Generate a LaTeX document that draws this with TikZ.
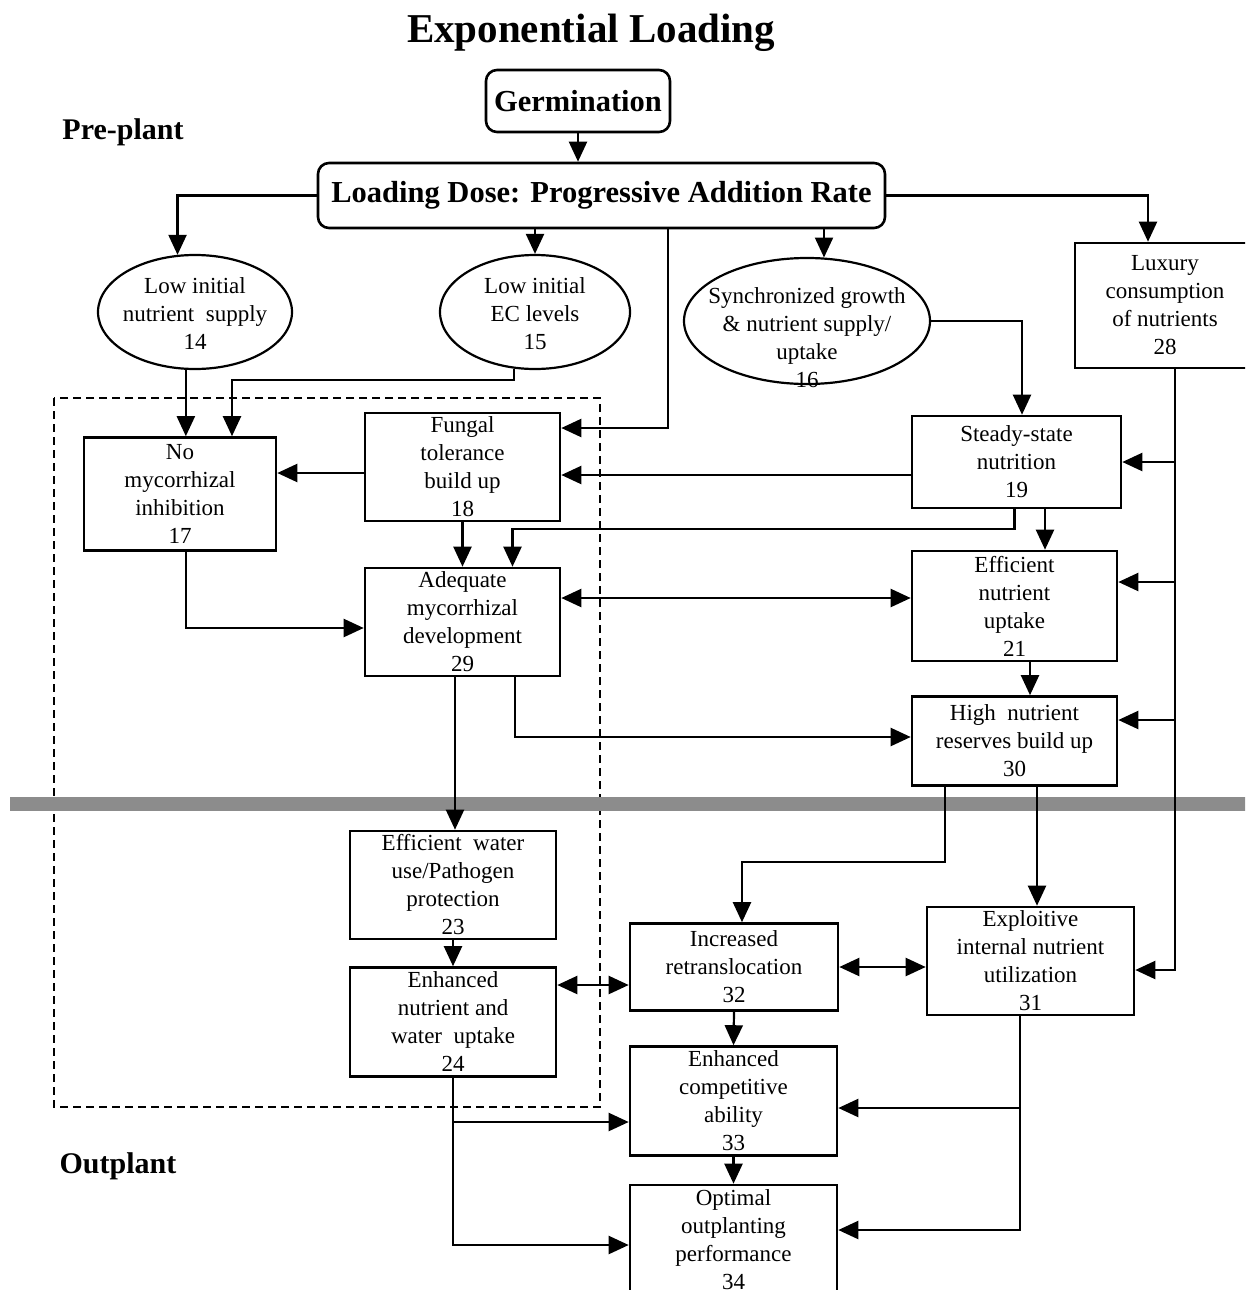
\documentclass[tikz,border=0pt]{standalone}
\usepackage{fontspec}
\setmainfont{Liberation Serif}
\usetikzlibrary{arrows.meta,shapes.geometric}

\begin{document}
\begin{tikzpicture}[x=1pt,y=-1pt,
   every node/.style={font=\fontsize{23}{28}\selectfont, align=center},
   box/.style={draw, line width=2.6pt, inner sep=0pt},
   rbox/.style={box, rounded corners=11pt, font=\fontsize{30.5}{36}\selectfont\bfseries},
   oval/.style={draw, ellipse, line width=2.2pt, inner sep=0pt},
   head/.style={font=\fontsize{30}{36}\selectfont\bfseries},
   ln/.style={line width=2.2pt},
   arr/.style={ln, -{Triangle[length=20pt,width=18pt]}},
   darr/.style={ln, {Triangle[length=20pt,width=18pt]}-{Triangle[length=20pt,width=18pt]}}]
\useasboundingbox (0,0) rectangle (1245,1290);
\clip (0,0) rectangle (1245,1290);

\node[font=\fontsize{41}{48}\selectfont\bfseries] (title) at (591,33) {Exponential Loading};
\node[head] (pre) at (123,132) {Pre-plant};
\node[head] (out) at (118,1166) {Outplant};

\node[rbox, minimum width=184, minimum height=62] (germ) at (578,101) {Germination};
\node[rbox, minimum width=567, minimum height=65] (load) at (601.5,195.5) {Loading Dose: Progressive Addition Rate};

\node[oval, minimum width=194, minimum height=114] (e14) at (195,312) {};
\node (t14) at (195,314) {Low initial\\nutrient~ supply\\14};
\node[oval, minimum width=190, minimum height=114] (e15) at (535,312) {};
\node (t15) at (535,314) {Low initial\\EC levels\\15};
\node[oval, minimum width=246, minimum height=126] (e16) at (807,321) {};
\node (t16) at (807,338) {Synchronized growth\\\& nutrient supply/\\uptake\\16};
\node[box, minimum width=180, minimum height=125] (n28) at (1165,305.5) {Luxury\\consumption\\of nutrients\\28};

\node[box, minimum width=192, minimum height=113] (n17) at (180,494) {No\\mycorrhizal\\inhibition\\17};
\node[box, minimum width=195, minimum height=108] (n18) at (462.5,467) {Fungal\\tolerance\\build up\\18};
\node[box, minimum width=209, minimum height=92] (n19) at (1016.5,462) {Steady-state\\nutrition\\19};
\node[box, minimum width=195, minimum height=108] (n29) at (462.5,622) {Adequate\\mycorrhizal\\development\\29};
\node[box, minimum width=205, minimum height=110] (n21) at (1014.5,606) {Efficient\\nutrient\\uptake\\21};
\node[box, minimum width=205, minimum height=89] (n30) at (1014.5,741) {High~ nutrient\\reserves build up\\30};
\node[box, minimum width=206, minimum height=108] (n23) at (453,885) {Efficient~ water\\use/Pathogen\\protection\\23};
\node[box, minimum width=206, minimum height=109] (n24) at (453,1022) {Enhanced\\nutrient and\\water~ uptake\\24};
\node[box, minimum width=208, minimum height=87] (n32) at (734,967) {Increased\\retranslocation\\32};
\node[box, minimum width=207, minimum height=108] (n31) at (1030.5,961) {Exploitive\\internal nutrient\\utilization\\31};
\node[box, minimum width=207, minimum height=109] (n33) at (733.5,1101) {Enhanced\\competitive\\ability\\33};
\node[box, minimum width=207, minimum height=110] (n34) at (733.5,1240) {Optimal\\outplanting\\performance\\34};

\draw[ln, dashed, dash pattern=on 8pt off 5pt] (54,398) rectangle (600,1107);
\fill[black!45] (10,797) rectangle (1260,811);

\coordinate (lux) at ([xshift=10pt]n28.south);
\coordinate (c21) at ([yshift=24pt]n21.east);
\coordinate (c30) at ([yshift=21pt]n30.east);
\coordinate (c31) at ([yshift=-9pt]n31.east);
\coordinate (c18) at ([yshift=-6pt]n18.west);
\coordinate (c19) at ([yshift=-13pt]n19.west);
\coordinate (c29) at ([yshift=24pt]n29.east);
\coordinate (c24) at ([yshift=37pt]n24.east);

\draw[arr] (germ.south) -- (germ.south |- load.north);
\draw[arr] (load.west) -| (e14.107);
\draw[arr] (load.south -| e15.north) -- (e15.north);
\draw[arr] ([xshift=66.5pt]load.south) |- ([yshift=39pt]n18.east);
\draw[arr] (load.south -| e16.75) -- (e16.75);
\draw[arr] (load.east) -| ([xshift=-17pt]n28.north);

\draw[arr] (e14.261) -- (e14.261 |- n17.north);
\draw[arr] (e15.250) -- ++(0,11) -| ([xshift=52pt]n17.north);
\draw[arr] (e16.east) -| ([xshift=5.5pt]n19.north);

\draw[arr] (lux) |- (c31);
\draw[arr] (lux |- n19.east) -- (n19.east);
\draw[arr] (lux |- c21) -- (c21);
\draw[arr] (lux |- c30) -- (c30);

\draw[arr] (c18) -- (c18 -| n17.east);
\draw[arr] (c19) -- (c19 -| n18.east);
\draw[arr] ([xshift=-2pt]n19.south) -- ++(0,20) -| ([xshift=50pt]n29.north);
\draw[arr] ([xshift=28.5pt]n19.south) -- ([xshift=28.5pt]n19.south |- n21.north);
\draw[arr] (n18.south) -- (n29.north);
\draw[arr] ([xshift=6pt]n17.south) |- ([yshift=-6pt]n29.west);
\draw[darr] (c29) -- (c29 -| n21.west);
\draw[arr] ([xshift=15.5pt]n21.south) -- ([xshift=15.5pt]n21.south |- n30.north);
\draw[arr] ([xshift=52.5pt]n29.south) |- ([yshift=4pt]n30.west);
\draw[arr] ([xshift=-7.5pt]n29.south) -- ([xshift=-7.5pt]n29.south |- n23.north);

\draw[arr] ([xshift=-69.5pt]n30.south) -- ++(0,75) -| ([xshift=8pt]n32.north);
\draw[arr] ([xshift=22.5pt]n30.south) -- ([xshift=22.5pt]n30.south |- n31.north);
\draw[arr] (n23.south) -- (n24.north);
\draw[darr] (c24) -- (c24 -| n32.west);
\draw[darr] (n32.east) -- (n32.east -| n31.west);
\draw[arr] (n32.south) -- (n33.north);
\draw[arr] (n33.south) -- (n34.north);
\draw[arr] (n24.south) |- ([yshift=-21pt]n33.west);
\draw[arr] (n24.south) |- ([yshift=-5pt]n34.west);
\draw[arr] ([xshift=-10.5pt]n31.south) |- ([yshift=-7pt]n33.east);
\draw[arr] ([xshift=-10.5pt]n31.south) |- ([yshift=10pt]n34.east);
\end{tikzpicture}
\end{document}
